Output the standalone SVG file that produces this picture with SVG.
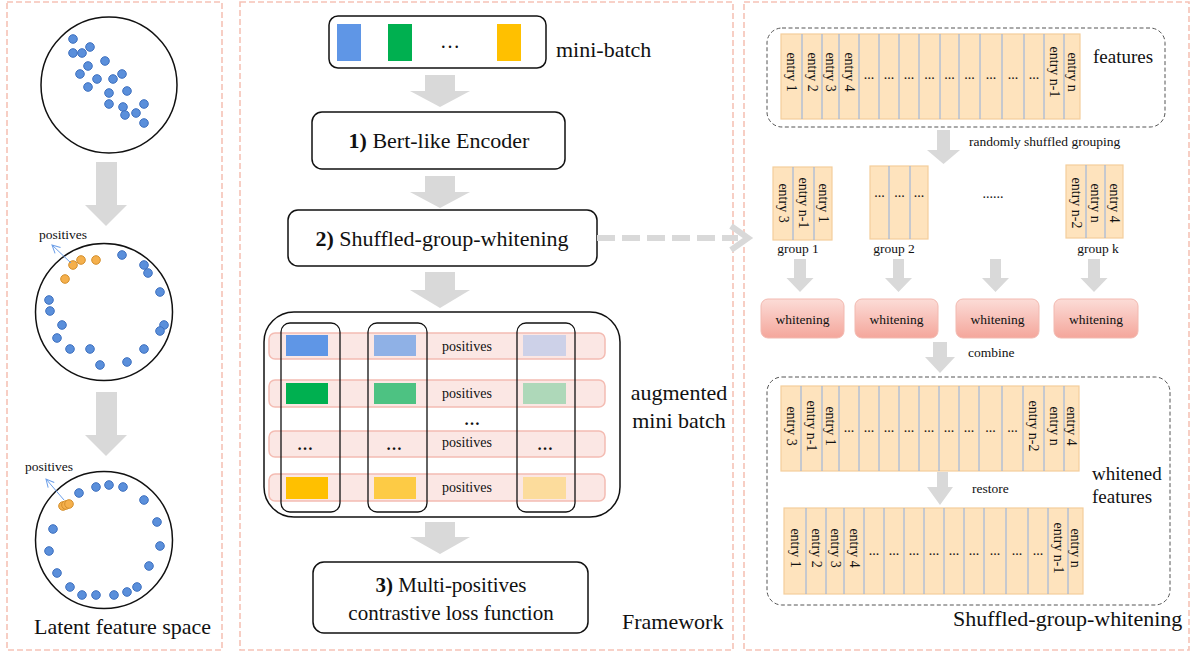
<svg xmlns="http://www.w3.org/2000/svg" width="1195" height="653" viewBox="0 0 1195 653">
  <style>
    text { font-family: "Liberation Serif", "Times New Roman", serif; fill: #111; }
    .panel { fill: none; stroke: #f6c2b6; stroke-width: 1.6; stroke-dasharray: 6 3; }
    .ring { fill: none; stroke: #111; stroke-width: 1.5; }
    .dot { fill: #5a8fdb; stroke: #3e70bf; stroke-width: 1; }
    .odot { fill: #f5b04c; stroke: #d48f2c; stroke-width: 1; }
    .ptr { fill: none; stroke: #6b9ee8; stroke-width: 1; }
    .block { fill: #d9d9d9; stroke: none; }
    .box { fill: #fff; stroke: #111; stroke-width: 1.5; }
    .col { fill: none; stroke: #111; stroke-width: 1.3; }
    .row { fill: #fbe7e4; stroke: #f4bcb3; stroke-width: 1.5; }
    .dash { fill: none; stroke: #555; stroke-width: 1; stroke-dasharray: 4 2.5; }
    .strip { fill: #fee3bd; stroke: #f3cd9b; stroke-width: 1.2; }
    .div { stroke: #8eaee0; stroke-width: 1; }
    .whiten { fill: url(#whitenGrad); stroke: #f2b9b0; stroke-width: 1; }
    .big { font-size: 22px; }
    .mid { font-size: 19px; }
    .small { font-size: 13.5px; }
    .ent { font-size: 14px; text-anchor: middle; dominant-baseline: central; }
    .dots { font-size: 14px; text-anchor: middle; }
    .c { text-anchor: middle; }
  </style>
  <defs>
    <linearGradient id="whitenGrad" x1="0" y1="0" x2="0" y2="1">
      <stop offset="0" stop-color="#fcdcd7"/>
      <stop offset="1" stop-color="#f4a69b"/>
    </linearGradient>
    <marker id="openHead" markerWidth="10" markerHeight="10" refX="9" refY="5" orient="auto" markerUnits="userSpaceOnUse">
      <path d="M1,1 L9,5 L1,9" fill="none" stroke="#6b9ee8" stroke-width="1"/>
    </marker>
  </defs>

  <!-- panel frames -->
  <rect class="panel" x="7" y="2" width="215" height="648"/>
  <rect class="panel" x="240" y="2" width="493" height="648"/>
  <rect class="panel" x="744" y="2" width="445" height="648"/>

  <!-- latent feature space -->
  <g id="space-initial">
    <circle class="ring" cx="109" cy="85" r="68"/>
    <g class="dot">
      <circle cx="73" cy="39" r="4.3"/><circle cx="73" cy="53" r="4.3"/><circle cx="82" cy="53" r="4.3"/>
      <circle cx="90" cy="47" r="4.3"/><circle cx="88" cy="66" r="4.3"/><circle cx="105" cy="61" r="4.3"/>
      <circle cx="80" cy="74" r="4.3"/><circle cx="97" cy="79" r="4.3"/><circle cx="113" cy="79" r="4.3"/>
      <circle cx="122" cy="74" r="4.3"/><circle cx="88" cy="87" r="4.3"/><circle cx="109" cy="93" r="4.3"/>
      <circle cx="127" cy="91" r="4.3"/><circle cx="109" cy="104" r="4.3"/><circle cx="123" cy="107" r="4.3"/>
      <circle cx="125" cy="115" r="4.3"/><circle cx="136" cy="113" r="4.3"/><circle cx="144" cy="104" r="4.3"/>
      <circle cx="144" cy="123" r="4.3"/>
    </g>
  </g>

  <g id="space-middle">
    <circle class="ring" cx="104" cy="312" r="68.5"/>
    <g class="dot">
      <circle cx="122" cy="255" r="4.3"/><circle cx="144" cy="265" r="4.3"/><circle cx="148" cy="273" r="4.3"/>
      <circle cx="160" cy="292" r="4.3"/><circle cx="49" cy="300" r="4.3"/><circle cx="50" cy="311" r="4.3"/>
      <circle cx="62" cy="325" r="4.3"/><circle cx="164" cy="325" r="4.3"/><circle cx="160" cy="331" r="4.3"/>
      <circle cx="57" cy="338" r="4.3"/><circle cx="70" cy="349" r="4.3"/><circle cx="90" cy="349" r="4.3"/>
      <circle cx="144" cy="349" r="4.3"/><circle cx="100" cy="365" r="4.3"/><circle cx="127" cy="362" r="4.3"/>
    </g>
    <g class="odot">
      <circle cx="81" cy="260" r="4.3"/><circle cx="96" cy="260" r="4.3"/>
      <circle cx="65" cy="279" r="4.3"/><circle cx="73" cy="265" r="4.3"/>
    </g>
    <line class="ptr" x1="71" y1="263" x2="52" y2="245" marker-end="url(#openHead)"/>
    <text class="small" x="39" y="239">positives</text>
  </g>

  <g id="space-final">
    <circle class="ring" cx="104" cy="540" r="68.5"/>
    <g class="dot">
      <circle cx="79" cy="493" r="4.3"/><circle cx="96" cy="487" r="4.3"/><circle cx="109" cy="485" r="4.3"/>
      <circle cx="123" cy="487" r="4.3"/><circle cx="144" cy="500" r="4.3"/><circle cx="157" cy="522" r="4.3"/>
      <circle cx="160" cy="546" r="4.3"/><circle cx="149" cy="566" r="4.3"/><circle cx="137" cy="587" r="4.3"/>
      <circle cx="127" cy="592" r="4.3"/><circle cx="114" cy="595" r="4.3"/><circle cx="96" cy="595" r="4.3"/>
      <circle cx="82" cy="595" r="4.3"/><circle cx="70" cy="587" r="4.3"/><circle cx="57" cy="573" r="4.3"/>
      <circle cx="49" cy="551" r="4.3"/><circle cx="53" cy="529" r="4.3"/>
    </g>
    <g class="odot">
      <circle cx="63" cy="506" r="4.3"/><circle cx="66" cy="505" r="4.3"/><circle cx="69" cy="504" r="4.3"/>
    </g>
    <line class="ptr" x1="64" y1="500" x2="46" y2="479" marker-end="url(#openHead)"/>
    <text class="small" x="25" y="471">positives</text>
  </g>
  <text class="big" x="34" y="634">Latent feature space</text>

  <!-- framework column -->
  <g id="mini-batch">
    <rect class="box" x="329" y="16" width="217" height="52" rx="9"/>
    <rect x="337" y="24" width="24" height="37" fill="#5f96e6"/>
    <rect x="388" y="24" width="24" height="37" fill="#00b050"/>
    <text class="c" x="450" y="48" font-size="20">…</text>
    <rect x="497" y="24" width="24" height="37" fill="#ffc000"/>
    <text class="big" x="556" y="57">mini-batch</text>
  </g>

  <g id="encoder">
    <rect class="box" x="312" y="112" width="253" height="57" rx="10"/>
    <text class="big c" x="439" y="148"><tspan font-weight="bold">1)</tspan> Bert-like Encoder</text>
  </g>

  <g id="sgw-step">
    <rect class="box" x="288" y="210" width="309" height="56" rx="10"/>
    <text class="big c" x="442" y="246"><tspan font-weight="bold">2)</tspan> Shuffled-group-whitening</text>
  </g>

  <g id="augmented">
    <rect class="box" x="264" y="312" width="356" height="205" rx="30"/>
    <rect class="row" x="269" y="333" width="336" height="26" rx="6"/>
    <rect class="row" x="269" y="380" width="336" height="27" rx="6"/>
    <rect class="row" x="269" y="431" width="336" height="26" rx="6"/>
    <rect class="row" x="269" y="474" width="336" height="27" rx="6"/>
    <rect class="col" x="281" y="323" width="59" height="189" rx="9"/>
    <rect class="col" x="368" y="323" width="59" height="189" rx="9"/>
    <rect class="col" x="517" y="323" width="58" height="189" rx="9"/>
    <rect x="286" y="335" width="42" height="21" fill="#5f96e6"/>
    <rect x="374" y="335" width="42" height="21" fill="#8fb1e6"/>
    <rect x="523" y="335" width="43" height="21" fill="#cdd1e8"/>
    <rect x="286" y="383" width="42" height="21" fill="#00b050"/>
    <rect x="374" y="383" width="42" height="21" fill="#4dc282"/>
    <rect x="523" y="383" width="43" height="21" fill="#aed8b9"/>
    <rect x="286" y="477" width="42" height="22" fill="#ffc000"/>
    <rect x="374" y="477" width="42" height="22" fill="#fdcb45"/>
    <rect x="523" y="477" width="43" height="22" fill="#fcdc9c"/>
    <g font-size="14" text-anchor="middle">
      <text x="467" y="351">positives</text>
      <text x="467" y="398">positives</text>
      <text x="467" y="447">positives</text>
      <text x="467" y="492">positives</text>
    </g>
    <g font-size="16" font-weight="bold" text-anchor="middle">
      <text x="472" y="425">…</text>
      <text x="305" y="450">…</text>
      <text x="394" y="450">…</text>
      <text x="545" y="450">…</text>
    </g>
    <text class="big c" x="679" y="400">augmented</text>
    <text class="big c" x="679" y="428">mini batch</text>
  </g>

  <g id="loss">
    <rect class="box" x="313" y="562" width="275" height="71" rx="11"/>
    <text class="c" x="451" y="592" font-size="21"><tspan font-weight="bold">3)</tspan> Multi-positives</text>
    <text class="c" x="451" y="620" font-size="21">contrastive loss function</text>
  </g>
  <text class="big" x="622" y="629">Framework</text>

  <!-- shuffled group whitening detail -->
  <g id="features">
    <rect class="dash" x="767" y="28" width="398" height="99" rx="15"/>
    <rect class="strip" x="781" y="34" width="299" height="85"/>
    <g class="div">
      <line x1="802" y1="34" x2="802" y2="119"/><line x1="822" y1="34" x2="822" y2="119"/>
      <line x1="839" y1="34" x2="839" y2="119"/><line x1="859" y1="34" x2="859" y2="119"/>
      <line x1="879" y1="34" x2="879" y2="119"/><line x1="899" y1="34" x2="899" y2="119"/>
      <line x1="919" y1="34" x2="919" y2="119"/><line x1="940" y1="34" x2="940" y2="119"/>
      <line x1="959" y1="34" x2="959" y2="119"/><line x1="980" y1="34" x2="980" y2="119"/>
      <line x1="1002" y1="34" x2="1002" y2="119"/><line x1="1024" y1="34" x2="1024" y2="119"/>
      <line x1="1044" y1="34" x2="1044" y2="119"/><line x1="1064" y1="34" x2="1064" y2="119"/>
    </g>
    <text class="ent" transform="translate(791.5 72) rotate(90)">entry 1</text>
    <text class="ent" transform="translate(812 72) rotate(90)">entry 2</text>
    <text class="ent" transform="translate(830.5 72) rotate(90)">entry 3</text>
    <text class="ent" transform="translate(849 72) rotate(90)">entry 4</text>
    <g class="dots">
      <text x="869" y="79">...</text><text x="889" y="79">...</text><text x="909" y="79">...</text>
      <text x="929.5" y="79">...</text><text x="949.5" y="79">...</text><text x="969.5" y="79">...</text>
      <text x="991" y="79">...</text><text x="1013" y="79">...</text><text x="1034" y="79">...</text>
    </g>
    <text class="ent" transform="translate(1054 72) rotate(90)">entry n-1</text>
    <text class="ent" transform="translate(1072 72) rotate(90)">entry n</text>
    <text class="mid" x="1093" y="63">features</text>
  </g>
  <text class="small" x="969" y="146">randomly shuffled grouping</text>

  <g id="group-1">
    <rect class="strip" x="773" y="167" width="59" height="73"/>
    <line class="div" x1="793" y1="167" x2="793" y2="240"/>
    <line class="div" x1="814" y1="167" x2="814" y2="240"/>
    <text class="ent" transform="translate(783 203) rotate(90)">entry 3</text>
    <text class="ent" transform="translate(803.5 203) rotate(90)">entry n-1</text>
    <text class="ent" transform="translate(823 203) rotate(90)">entry 1</text>
    <text class="small c" x="798" y="253">group 1</text>
  </g>
  <g id="group-2">
    <rect class="strip" x="870" y="166" width="58" height="73"/>
    <line class="div" x1="889" y1="166" x2="889" y2="239"/>
    <line class="div" x1="910" y1="166" x2="910" y2="239"/>
    <g class="dots">
      <text x="879.5" y="197">...</text><text x="899.5" y="197">...</text><text x="919" y="197">...</text>
    </g>
    <text class="small c" x="894" y="253">group 2</text>
  </g>
  <text class="dots" x="993" y="198">......</text>
  <g id="group-k">
    <rect class="strip" x="1066" y="165" width="57" height="73"/>
    <line class="div" x1="1086" y1="165" x2="1086" y2="238"/>
    <line class="div" x1="1105" y1="165" x2="1105" y2="238"/>
    <text class="ent" transform="translate(1076 203) rotate(90)">entry n-2</text>
    <text class="ent" transform="translate(1095.5 203) rotate(90)">entry n</text>
    <text class="ent" transform="translate(1114 203) rotate(90)">entry 4</text>
    <text class="small c" x="1098" y="253">group k</text>
  </g>

  <g id="whitening-1"><rect class="whiten" x="761" y="299" width="83" height="39" rx="7"/><text class="small c" x="802.5" y="324">whitening</text></g>
  <g id="whitening-2"><rect class="whiten" x="855" y="299" width="83" height="39" rx="7"/><text class="small c" x="896.5" y="324">whitening</text></g>
  <g id="whitening-3"><rect class="whiten" x="956" y="299" width="83" height="39" rx="7"/><text class="small c" x="997.5" y="324">whitening</text></g>
  <g id="whitening-k"><rect class="whiten" x="1054" y="299" width="84" height="39" rx="7"/><text class="small c" x="1096" y="324">whitening</text></g>
  <text class="small" x="968" y="357">combine</text>

  <g id="whitened-features">
    <rect class="dash" x="767" y="377" width="403" height="228" rx="15"/>
    <rect class="strip" x="781" y="386" width="298" height="85"/>
    <g class="div">
      <line x1="801" y1="386" x2="801" y2="471"/><line x1="822" y1="386" x2="822" y2="471"/>
      <line x1="839" y1="386" x2="839" y2="471"/><line x1="859" y1="386" x2="859" y2="471"/>
      <line x1="879" y1="386" x2="879" y2="471"/><line x1="899" y1="386" x2="899" y2="471"/>
      <line x1="919" y1="386" x2="919" y2="471"/><line x1="939" y1="386" x2="939" y2="471"/>
      <line x1="959" y1="386" x2="959" y2="471"/><line x1="979" y1="386" x2="979" y2="471"/>
      <line x1="1002" y1="386" x2="1002" y2="471"/><line x1="1023" y1="386" x2="1023" y2="471"/>
      <line x1="1044" y1="386" x2="1044" y2="471"/><line x1="1064" y1="386" x2="1064" y2="471"/>
    </g>
    <text class="ent" transform="translate(791 426) rotate(90)">entry 3</text>
    <text class="ent" transform="translate(811.5 426) rotate(90)">entry n-1</text>
    <text class="ent" transform="translate(830.5 426) rotate(90)">entry 1</text>
    <g class="dots">
      <text x="849" y="432">...</text><text x="869" y="432">...</text><text x="889" y="432">...</text>
      <text x="909" y="432">...</text><text x="929" y="432">...</text><text x="949" y="432">...</text>
      <text x="969" y="432">...</text><text x="990.5" y="432">...</text><text x="1012.5" y="432">...</text>
    </g>
    <text class="ent" transform="translate(1033.5 426) rotate(90)">entry n-2</text>
    <text class="ent" transform="translate(1054 426) rotate(90)">entry n</text>
    <text class="ent" transform="translate(1071.5 426) rotate(90)">entry 4</text>

    <rect class="strip" x="784" y="508" width="299" height="86"/>
    <g class="div">
      <line x1="806" y1="508" x2="806" y2="594"/><line x1="826" y1="508" x2="826" y2="594"/>
      <line x1="844" y1="508" x2="844" y2="594"/><line x1="864" y1="508" x2="864" y2="594"/>
      <line x1="884" y1="508" x2="884" y2="594"/><line x1="904" y1="508" x2="904" y2="594"/>
      <line x1="924" y1="508" x2="924" y2="594"/><line x1="944" y1="508" x2="944" y2="594"/>
      <line x1="964" y1="508" x2="964" y2="594"/><line x1="984" y1="508" x2="984" y2="594"/>
      <line x1="1006" y1="508" x2="1006" y2="594"/><line x1="1028" y1="508" x2="1028" y2="594"/>
      <line x1="1048" y1="508" x2="1048" y2="594"/><line x1="1068" y1="508" x2="1068" y2="594"/>
    </g>
    <text class="ent" transform="translate(795 548) rotate(90)">entry 1</text>
    <text class="ent" transform="translate(816 548) rotate(90)">entry 2</text>
    <text class="ent" transform="translate(835 548) rotate(90)">entry 3</text>
    <text class="ent" transform="translate(854 548) rotate(90)">entry 4</text>
    <g class="dots">
      <text x="874" y="555">...</text><text x="894" y="555">...</text><text x="914" y="555">...</text>
      <text x="934" y="555">...</text><text x="954" y="555">...</text><text x="974" y="555">...</text>
      <text x="995" y="555">...</text><text x="1017" y="555">...</text><text x="1038" y="555">...</text>
    </g>
    <text class="ent" transform="translate(1058 548) rotate(90)">entry n-1</text>
    <text class="ent" transform="translate(1075.5 548) rotate(90)">entry n</text>
    <text class="small" x="972" y="493">restore</text>
    <text class="mid" x="1092" y="480">whitened</text>
    <text class="mid" x="1092" y="503">features</text>
  </g>
  <text class="big" x="953" y="626">Shuffled-group-whitening</text>

  <!-- connectors -->
  <g id="connectors">
    <path class="block" d="M96,162 H117 V205 H127 L106,226 L85,205 H96 Z"/>
    <path class="block" d="M96,392 H117 V435 H127 L106,456 L85,435 H96 Z"/>
    <path class="block" d="M425,75 H455 V91 H470 L440,107 L410,91 H425 Z"/>
    <path class="block" d="M425,176 H455 V192 H470 L440,208 L410,192 H425 Z"/>
    <path class="block" d="M425,272 H455 V290 H470 L440,308 L410,290 H425 Z"/>
    <path class="block" d="M425,522 H455 V537 H470 L440,554 L410,537 H425 Z"/>
    <line x1="597" y1="238" x2="738" y2="238" stroke="#d9d9d9" stroke-width="6" stroke-dasharray="18 7"/>
    <path d="M731,226 L748,238 L731,250" fill="none" stroke="#d9d9d9" stroke-width="6"/>
    <path class="block" d="M937,130 H950 V150 H960 L943.5,164 L927,150 H937 Z"/>
    <path class="block" d="M794,259 H806 V278 H813.5 L800,292 L786.5,278 H794 Z"/>
    <path class="block" d="M893,259 H904 V278 H912 L898.5,292 L885,278 H893 Z"/>
    <path class="block" d="M990,259 H1001 V278 H1009 L995.5,292 L982,278 H990 Z"/>
    <path class="block" d="M1088,259 H1100 V278 H1107.5 L1094,292 L1080.5,278 H1088 Z"/>
    <path class="block" d="M933,342 H947 V357 H955 L940,373 L925,357 H933 Z"/>
    <path class="block" d="M937,472 H948 V487 H953 L940,505 L927,487 H937 Z"/>
  </g>
</svg>
